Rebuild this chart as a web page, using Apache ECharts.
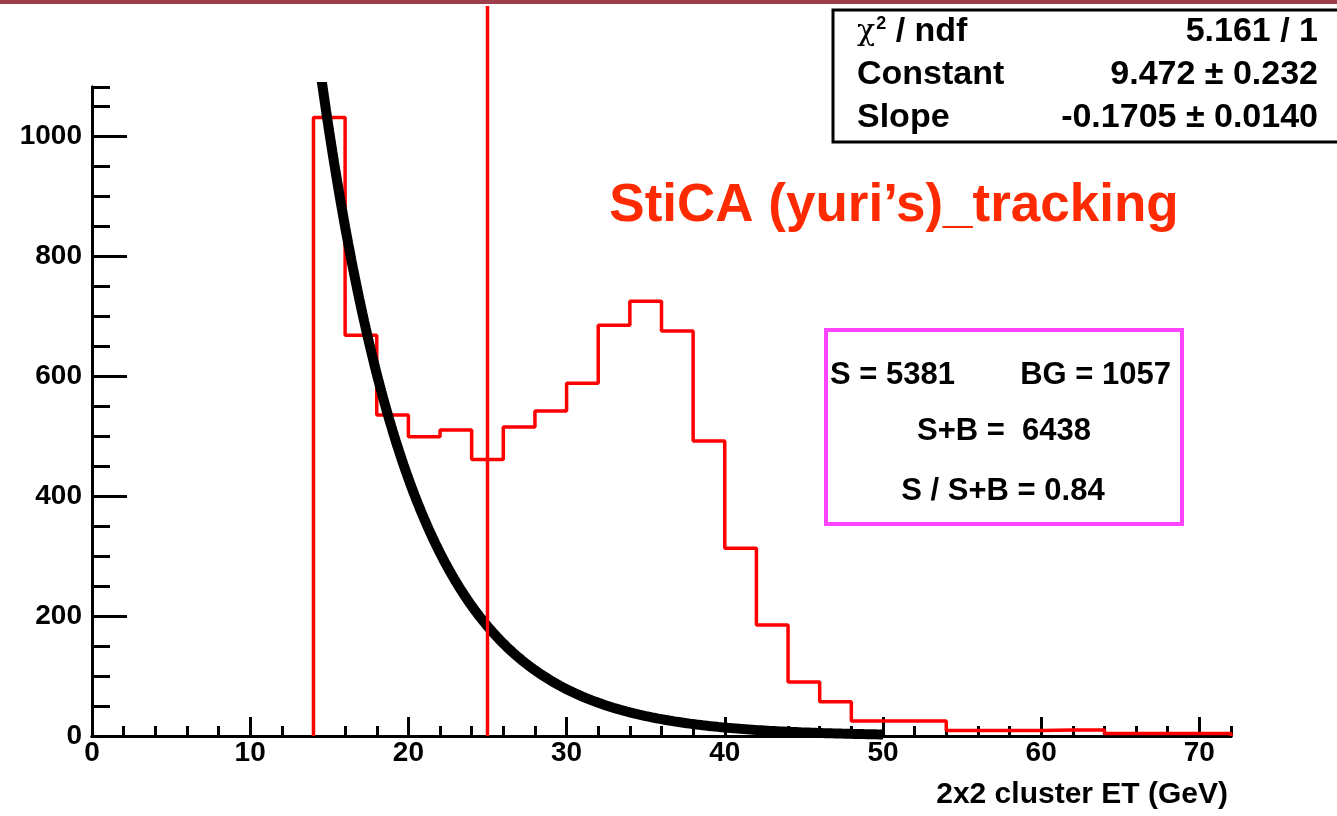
<!DOCTYPE html>
<html><head><meta charset="utf-8">
<script src="https://cdn.jsdelivr.net/npm/echarts@6/dist/echarts.min.js"></script>
<style>html,body{margin:0;padding:0;background:#fff}#c{width:1337px;height:816px}</style>
</head><body><div id="c"></div>
<script>
// ---- data ----
const binLowEdges = [14,16,18,20,22,24,26,28,30,32,34,36,38,40,42,44,46,48,50,52,54,56,58,60,62,64,66,68,70];
const binWidth = 2;
const counts = [1031,668,535,499,510,461,515,542,588,685,725,675,492,313,185,90,57,25,25,25,9,9,9,10,10,4,4,4,4];
const fitConstant = 9.472;
const fitSlope = -0.1705;
const fitRange = [14, 50];
const cutPosition = 25;
const cutLineTop = 1217;
const statLabels = ['Constant', 'Slope'];
const statValues = ['5.161 / 1', '9.472 \u00b1 0.232', '-0.1705 \u00b1 0.0140'];
const boxLines = ['S = 5381', 'BG = 1057', 'S+B =  6438', 'S / S+B = 0.84'];
const titleText = 'StiCA (yuri\u2019s)_tracking';
const xAxisTitle = '2x2 cluster ET (GeV)';

// ---- build ----
const FONT = '"Liberation Sans", Arial, Helvetica, sans-serif';
const histData = [[binLowEdges[0], 0]];
binLowEdges.forEach((x, i) => histData.push([x, counts[i]]));
histData.push([binLowEdges[binLowEdges.length - 1] + binWidth, 0]);

const fitData = [];
for (let x = fitRange[0]; x <= fitRange[1] + 1e-9; x += 0.1) {
  fitData.push([x, Math.exp(fitConstant + fitSlope * x)]);
}
const cutData = [[cutPosition, 0], [cutPosition, cutLineTop]];

const chart = echarts.init(document.getElementById('c'), null, {renderer: 'canvas'});
const lineBlack = {show: true, lineStyle: {color: '#000', width: 3}};
const X_MIN = 0, X_MAX = 72, Y_MIN = 0, Y_MAX = 1082;
const plain = v => String(v);

chart.setOption({
  animation: false,
  backgroundColor: '#fff',
  grid: {left: 92, right: 106, top: 87, bottom: 80, containLabel: false},
  xAxis: [
    {type: 'value', min: X_MIN, max: X_MAX, interval: 10, position: 'bottom',
     axisLine: lineBlack,
     axisTick: {show: true, inside: true, length: 19, lineStyle: {color: '#000', width: 3}},
     axisLabel: {show: true, margin: 3, color: '#000', fontFamily: FONT, fontWeight: 'bold', fontSize: 28, showMaxLabel: false, showMinLabel: true, formatter: plain},
     splitLine: {show: false},
     name: xAxisTitle, nameLocation: 'end', nameGap: -3,
     nameTextStyle: {align: 'right', verticalAlign: 'top', padding: [44, 0, 0, 0], color: '#000', fontFamily: FONT, fontWeight: 'bold', fontSize: 30}},
    {type: 'value', min: X_MIN, max: X_MAX, interval: 2, position: 'bottom',
     axisLine: {show: false},
     axisTick: {show: true, inside: true, length: 10, lineStyle: {color: '#000', width: 3}},
     axisLabel: {show: false}, splitLine: {show: false}},
    {type: 'value', min: X_MIN, max: X_MAX, position: 'top',
     axisLine: lineBlack, axisTick: {show: false}, axisLabel: {show: false}, splitLine: {show: false}}
  ],
  yAxis: [
    {type: 'value', min: Y_MIN, max: Y_MAX, interval: 200, position: 'left',
     axisLine: lineBlack,
     axisTick: {show: true, inside: true, length: 35, lineStyle: {color: '#000', width: 3}},
     axisLabel: {show: true, margin: 10, color: '#000', fontFamily: FONT, fontWeight: 'bold', fontSize: 28, showMaxLabel: false, formatter: plain},
     splitLine: {show: false}},
    {type: 'value', min: Y_MIN, max: Y_MAX, interval: 50, position: 'left',
     axisLine: {show: false},
     axisTick: {show: true, inside: true, length: 18, lineStyle: {color: '#000', width: 3}},
     axisLabel: {show: false}, splitLine: {show: false}},
    {type: 'value', min: Y_MIN, max: Y_MAX, position: 'right',
     axisLine: lineBlack, axisTick: {show: false}, axisLabel: {show: false}, splitLine: {show: false}}
  ],
  series: [
    {type: 'line', name: 'hist', data: histData, step: 'end', showSymbol: false, symbol: 'none',
     lineStyle: {color: '#ff0000', width: 3.5}, clip: true, z: 3},
    {type: 'line', name: 'fit', data: fitData, smooth: false, showSymbol: false, symbol: 'none',
     lineStyle: {color: '#000', width: 10, cap: 'butt'}, clip: true, z: 4},
    {type: 'line', name: 'cut', data: cutData, showSymbol: false, symbol: 'none',
     lineStyle: {color: '#ff0000', width: 3.5}, clip: false, z: 5}
  ],
  graphic: [
    {type: 'rect', left: 0, top: 0, shape: {width: 1337, height: 4}, style: {fill: '#9d3e4b'}, z: 100},
    {type: 'text', x: 894, y: 206, style: {text: titleText, fill: '#ff2a00', font: 'bold 53px ' + FONT, textAlign: 'center', textVerticalAlign: 'middle'}, z: 100},
    {type: 'rect', shape: {x: 826, y: 330, width: 356, height: 194}, style: {fill: 'none', stroke: '#ff44ff', lineWidth: 4}, z: 100},
    {type: 'text', x: 830, y: 375, style: {text: boxLines[0], fill: '#000', font: 'bold 31px ' + FONT, textAlign: 'left', textVerticalAlign: 'middle'}, z: 101},
    {type: 'text', x: 1171, y: 375, style: {text: boxLines[1], fill: '#000', font: 'bold 31px ' + FONT, textAlign: 'right', textVerticalAlign: 'middle'}, z: 101},
    {type: 'text', x: 1004, y: 431, style: {text: boxLines[2], fill: '#000', font: 'bold 31px ' + FONT, textAlign: 'center', textVerticalAlign: 'middle'}, z: 101},
    {type: 'text', x: 1003, y: 491, style: {text: boxLines[3], fill: '#000', font: 'bold 31px ' + FONT, textAlign: 'center', textVerticalAlign: 'middle'}, z: 101},
    {type: 'rect', shape: {x: 833, y: 10, width: 520, height: 132}, style: {fill: '#fff', stroke: '#000', lineWidth: 3}, z: 110},
    {type: 'text', x: 857, y: 32, style: {text: '{chi|\u03c7}{sup|2}{n| / ndf}', textAlign: 'left', textVerticalAlign: 'middle',
      rich: {chi: {fontFamily: '"DejaVu Serif", serif', fontSize: 30, fill: '#000', fontWeight: 'normal'},
             sup: {fontFamily: FONT, fontSize: 18, fill: '#000', fontWeight: 'bold', verticalAlign: 'top', padding: [0, 0, 14, 1]},
             n: {fontFamily: FONT, fontSize: 34, fill: '#000', fontWeight: 'bold'}}}, z: 111},
    {type: 'text', x: 857, y: 75, style: {text: statLabels[0], fill: '#000', font: 'bold 34px ' + FONT, textAlign: 'left', textVerticalAlign: 'middle'}, z: 111},
    {type: 'text', x: 857, y: 118, style: {text: statLabels[1], fill: '#000', font: 'bold 34px ' + FONT, textAlign: 'left', textVerticalAlign: 'middle'}, z: 111},
    {type: 'text', x: 1318, y: 32, style: {text: statValues[0], fill: '#000', font: 'bold 34px ' + FONT, textAlign: 'right', textVerticalAlign: 'middle'}, z: 111},
    {type: 'text', x: 1318, y: 75, style: {text: statValues[1], fill: '#000', font: 'bold 34px ' + FONT, textAlign: 'right', textVerticalAlign: 'middle'}, z: 111},
    {type: 'text', x: 1318, y: 118, style: {text: statValues[2], fill: '#000', font: 'bold 34px ' + FONT, textAlign: 'right', textVerticalAlign: 'middle'}, z: 111}
  ]
});
</script>
</body></html>
